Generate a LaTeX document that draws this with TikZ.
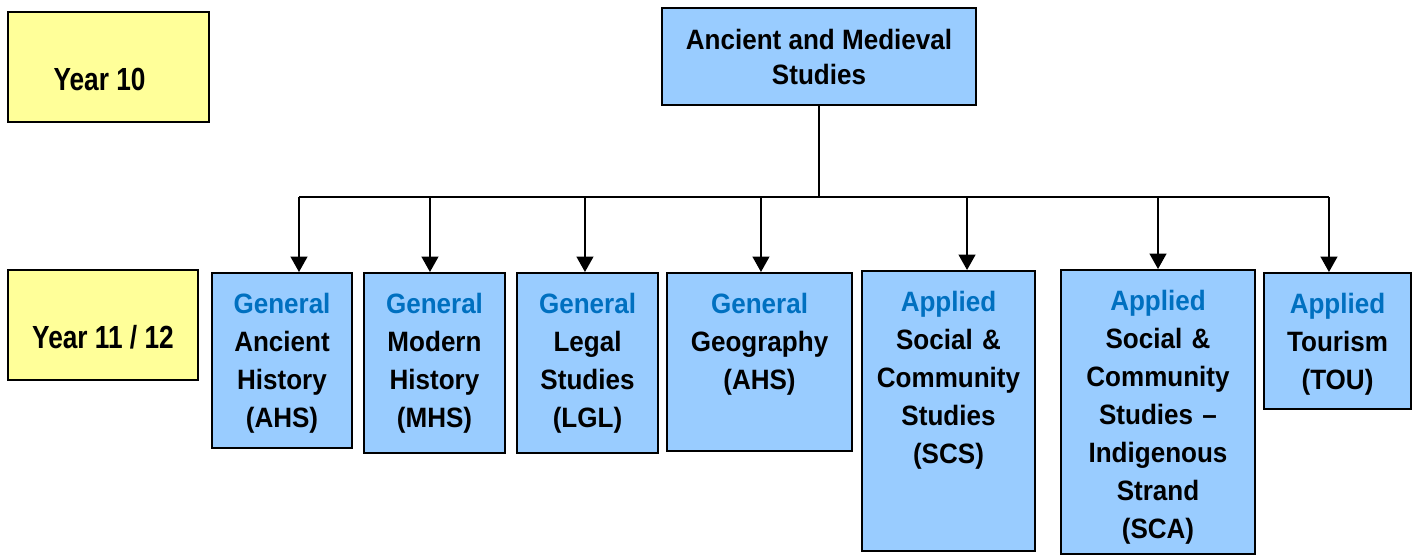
\documentclass[tikz,border=0pt]{standalone}
\usepackage{fontspec}
\setmainfont{Liberation Sans}[FakeStretch=0.93]
\newfontfamily\yearfont{Liberation Sans}[FakeStretch=0.82]
\usetikzlibrary{arrows.meta}

\definecolor{subjfill}{HTML}{99CCFF}
\definecolor{yearfill}{HTML}{FFFF99}
\definecolor{kindblue}{HTML}{0070C0}

\tikzset{
  yearbox/.style={draw, fill=yearfill, inner sep=0pt, text height=58.5pt, text depth=24pt,
    font=\yearfont\bfseries\fontsize{24}{28}\selectfont},
  subjbox/.style={draw, fill=subjfill, anchor=north west, inner sep=0pt, align=center,
    text height=30pt, font=\bfseries\fontsize{21}{28.5}\selectfont},
  feed/.style={-{Triangle[width=12.5pt,length=11.5pt]}},
}

\begin{document}
\begin{tikzpicture}[x=0.75pt, y=-0.75pt, line width=1.5pt]
\useasboundingbox (0,0) rectangle (1417,554);

% year levels
\node[yearbox, minimum width=150.75pt] (y10) at (108.5,67) {Year 10\hspace*{13.5pt}};
\node[yearbox, minimum width=142.5pt] (y11) at (103,325) {Year 11 / 12};

% learning area
\node[draw, fill=subjfill, minimum width=235.5pt, minimum height=72.75pt, inner sep=0pt, align=center,
      font=\bfseries\fontsize{21}{26.25}\selectfont] (area) at (819,56.5) {Ancient and Medieval\\Studies};

% courses
\node[subjbox, text width=105pt, text depth=101.25pt] (ahs) at (211,272)
  {\textcolor{kindblue}{General}\\Ancient\\History\\(AHS)};
\node[subjbox, text width=105.75pt, text depth=105pt] (mhs) at (363,272)
  {\textcolor{kindblue}{General}\\Modern\\History\\(MHS)};
\node[subjbox, text width=105.75pt, text depth=105pt] (lgl) at (516,272)
  {\textcolor{kindblue}{General}\\Legal\\Studies\\(LGL)};
\node[subjbox, text width=138.75pt, text depth=103.5pt] (geo) at (666,272)
  {\textcolor{kindblue}{General}\\Geography\\(AHS)};
\node[subjbox, text width=129.75pt, text depth=180pt] (scs) at (861,270)
  {\textcolor{kindblue}{Applied}\\Social \&\\Community\\Studies\\(SCS)};
\node[subjbox, text width=145.5pt, text depth=183pt] (sca) at (1060,269)
  {\textcolor{kindblue}{Applied}\\Social \&\\Community\\Studies --\\Indigenous\\Strand\\(SCA)};
\node[subjbox, text width=110.25pt, text depth=72pt] (tou) at (1263,272)
  {\textcolor{kindblue}{Applied}\\Tourism\\(TOU)};

% connectors
\draw (area.south) -- ++(0,91) coordinate (bus);
\foreach \n/\d in {ahs/12.75pt, mhs/-3.4pt, lgl/-1.9pt, geo/1.1pt, scs/13.9pt, sca/0pt, tou/-6.4pt}
  \coordinate (a\n) at ([xshift=\d]\n.north);
\draw (bus -| aahs) -- (bus -| atou);
\foreach \n in {ahs, mhs, lgl, geo, scs, sca, tou}
  \draw[feed] (bus -| a\n) -- (a\n);
\end{tikzpicture}
\end{document}
